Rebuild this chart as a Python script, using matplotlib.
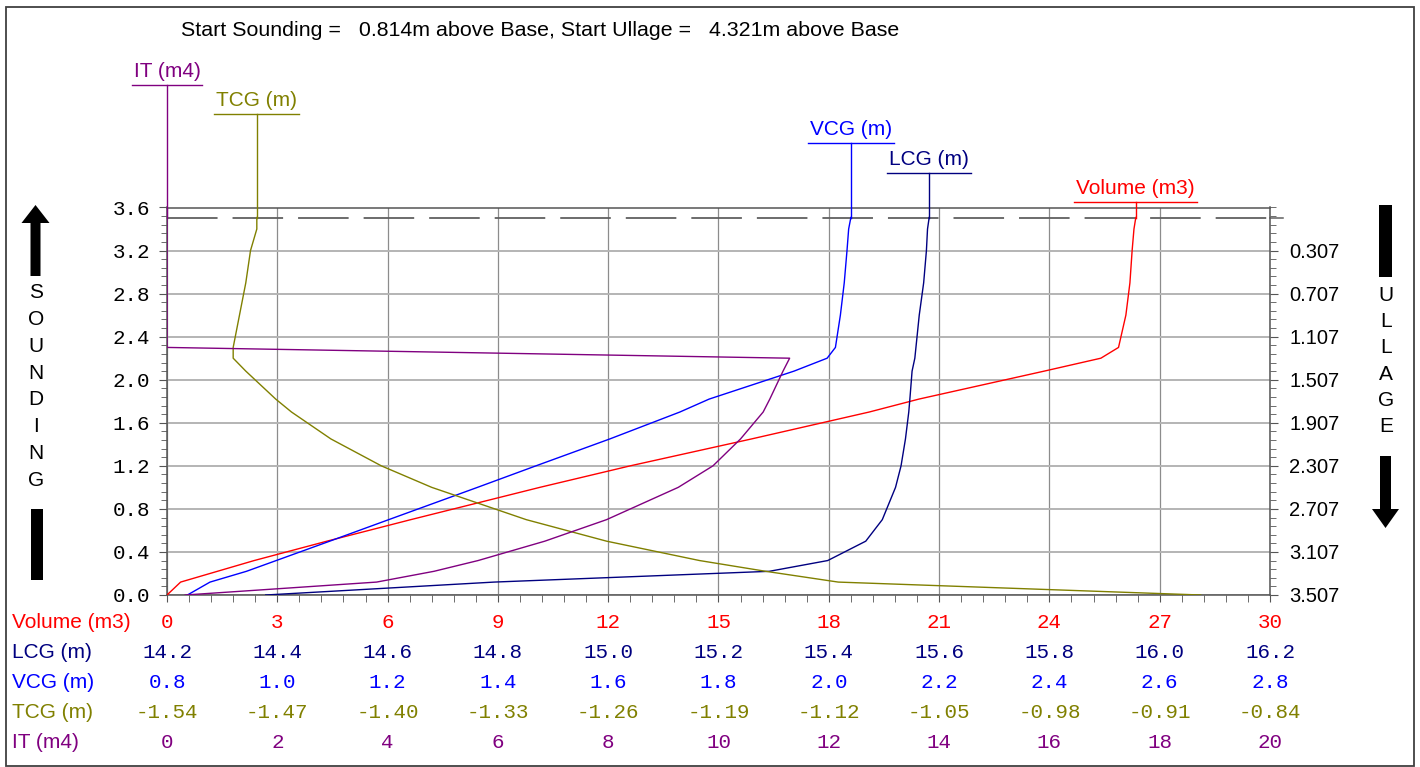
import numpy as np
import matplotlib.pyplot as plt
from matplotlib.patches import Rectangle, Polygon
from matplotlib.ticker import MultipleLocator, FixedLocator
from matplotlib.transforms import blended_transform_factory

plt.rcParams['font.family'] = 'Liberation Sans'
plt.rcParams['font.size'] = 15

# tank calibration table, sounding in m
sounding = [0.0, 0.12, 0.22, 0.32, 0.5, 0.7, 1.0, 1.2, 1.45, 1.7, 1.82, 2.08,
            2.2, 2.3, 2.6, 2.9, 3.2, 3.4, 3.507]
volume = [0.00, 0.37, 1.37, 2.37, 4.35, 6.63, 10.14, 12.60, 15.90, 19.10, 20.45,
          23.86, 25.40, 25.88, 26.08, 26.19, 26.25, 26.30, 26.35]
lcg = [14.379, 14.793, 15.292, 15.398, 15.467, 15.497, 15.521, 15.531, 15.539,
       15.545, 15.547, 15.551, 15.556, 15.558, 15.564, 15.572, 15.577, 15.579, 15.582]
vcg = [0.837, 0.878, 0.944, 0.998, 1.095, 1.202, 1.363, 1.469, 1.603, 1.730,
       1.783, 1.937, 1.997, 2.012, 2.021, 2.028, 2.033, 2.036, 2.040]
tcg = [-0.884, -1.114, -1.160, -1.202, -1.261, -1.312, -1.372, -1.404, -1.436,
       -1.461, -1.471, -1.490, -1.498, -1.498, -1.494, -1.490, -1.487, -1.483, -1.483]
it = [0.33, 3.80, 4.84, 5.64, 6.85, 7.97, 9.27, 9.90, 10.40, 10.81, 10.93,
      11.17, 11.29, 0.00, 0.00, 0.00, 0.00, 0.00, 0.00]

volume_ticks = [0, 3, 6, 9, 12, 15, 18, 21, 24, 27, 30]
lcg_ticks = [14.2, 14.4, 14.6, 14.8, 15.0, 15.2, 15.4, 15.6, 15.8, 16.0, 16.2]
vcg_ticks = [0.8, 1.0, 1.2, 1.4, 1.6, 1.8, 2.0, 2.2, 2.4, 2.6, 2.8]
tcg_ticks = [-1.54, -1.47, -1.40, -1.33, -1.26, -1.19, -1.12, -1.05, -0.98, -0.91, -0.84]
it_ticks = [0, 2, 4, 6, 8, 10, 12, 14, 16, 18, 20]

start_sounding = 0.814
start_ullage = 4.321
full_sounding = round(start_ullage - start_sounding, 3)

# name, values, scale ticks, colour, label format, callout height
series = [
    ("Volume (m3)", volume, volume_ticks, "#ff0000", "{:.0f}", 3.651),
    ("LCG (m)", lcg, lcg_ticks, "#000080", "{:.1f}", 3.921),
    ("VCG (m)", vcg, vcg_ticks, "#0000ff", "{:.1f}", 4.199),
    ("TCG (m)", tcg, tcg_ticks, "#808000", "{:.2f}", 4.469),
    ("IT (m4)", it, it_ticks, "#800080", "{:.0f}", 4.738),
]
row_y = [622, 652, 683, 713, 742]

W, H = 1420, 767
fig = plt.figure(figsize=(W / 100, H / 100), dpi=100)

# pixel-space overlay for frame, arrows and captions
bg = fig.add_axes([0, 0, 1, 1])
bg.set_xlim(0, W)
bg.set_ylim(H, 0)
bg.set_axis_off()

ax = fig.add_axes([167 / W, 1 - 595 / H, 1103 / W, 387.5 / H])
ax.set_xlim(volume_ticks[0], volume_ticks[-1])
ax.set_ylim(0, 3.6)
ax.xaxis.set_major_locator(FixedLocator(volume_ticks))
ax.xaxis.set_minor_locator(MultipleLocator(0.6))
ax.yaxis.set_major_locator(MultipleLocator(0.4))
ax.yaxis.set_minor_locator(MultipleLocator(0.08))
ax.xaxis.grid(True, color="#8c8c8c", lw=0.9)
ax.yaxis.grid(True, color="#b4b4b4", lw=1.4)
ax.set_axisbelow(True)
for sp in ax.spines.values():
    sp.set_color("#555555")
    sp.set_linewidth(1.1)
ax.tick_params(axis="x", which="both", direction="out", length=5, color="#555555",
               labelbottom=False)
ax.tick_params(axis="y", which="major", direction="out", length=6, color="#555555",
               pad=6, labelsize=15)
ax.tick_params(axis="y", which="minor", direction="out", length=4, color="#555555")
ax.yaxis.set_major_formatter(lambda v, p: f"{v:.1f}")
for lab in ax.get_yticklabels():
    lab.set_fontfamily("Liberation Mono")

# ullage scale on the right
axr = ax.twinx()
axr.set_ylim(0, 3.6)
ull_pos = [v for v in np.arange(0, 3.21, 0.4)]
axr.yaxis.set_major_locator(FixedLocator(ull_pos))
axr.yaxis.set_minor_locator(MultipleLocator(0.08))
axr.set_yticklabels([f"{full_sounding - v:.3f}" for v in ull_pos])
axr.tick_params(axis="y", which="major", direction="out", length=6, color="#555555",
                pad=8, labelsize=14.5)
axr.tick_params(axis="y", which="minor", direction="out", length=4, color="#555555")
for sp in axr.spines.values():
    sp.set_visible(False)

ax.axhline(full_sounding, color="#606060", lw=1.3, dashes=(28, 8.3))
ax.plot([1.0, 1.012], [full_sounding, full_sounding], color="#606060", lw=1.1,
        transform=blended_transform_factory(ax.transAxes, ax.transData), clip_on=False)

# one overlaid x scale per quantity
callouts = []
for row, (name, vals, ticks, color, fmt, level) in enumerate(series):
    sax = ax.twiny()
    sax.set_xlim(ticks[0], ticks[-1])
    sax.set_ylim(0, 3.6)
    sax.set_axis_off()
    sax.plot(vals, sounding, color=color, lw=1.0)
    top = vals[-1]
    sax.plot([top, top], [sounding[-1], level], color=color, lw=1.0, clip_on=False)
    txt = sax.annotate(name, (top, level), xytext=(0, 3), textcoords="offset points",
                       ha="center", va="bottom", color=color, fontsize=15,
                       annotation_clip=False)
    callouts.append((sax, txt, level, color))

    tr = blended_transform_factory(sax.transData, bg.transData)
    y = row_y[row]
    bg.text(12, y, name, color=color, fontsize=15, ha="left", va="center")
    for t in ticks:
        sax.text(t, y, fmt.format(t), transform=tr, color=color, ha="center",
                 va="center", fontsize=15, family="Liberation Mono", clip_on=False)

# underline each callout to the width of its label
fig.canvas.draw()
for sax, txt, level, color in callouts:
    bb = txt.get_window_extent()
    inv = sax.transData.inverted()
    x0 = inv.transform((bb.x0 - 2, 0))[0]
    x1 = inv.transform((bb.x1 + 2, 0))[0]
    sax.plot([x0, x1], [level, level], color=color, lw=1.0, clip_on=False)

bg.text(540, 31, f"Start Sounding = {start_sounding:7.3f}m above Base, "
                 f"Start Ullage = {start_ullage:7.3f}m above Base",
        ha="center", va="center", fontsize=15.4)

# outer frame
bg.add_patch(Rectangle((5.5, 6.5), 1408, 759, fill=False, ec="#404040", lw=1.3))

# sounding arrow and bar
bg.add_patch(Polygon([(35.5, 205), (49.5, 223), (40.5, 223), (40.5, 276), (30.5, 276),
                      (30.5, 223), (21.5, 223)], closed=True, fc="black", ec="none"))
bg.add_patch(Rectangle((31, 509), 12, 71, fc="black", ec="none"))
bg.text(36, 386.5, "\n".join("SOUNDING"), ha="center", va="center", fontsize=15,
        linespacing=1.53)

# ullage bar and arrow
bg.add_patch(Rectangle((1379, 205), 13, 72, fc="black", ec="none"))
bg.add_patch(Polygon([(1380, 456), (1391, 456), (1391, 509), (1399, 509), (1385.5, 528),
                      (1372, 509), (1380, 509)], closed=True, fc="black", ec="none"))
bg.text(1386, 361, "\n".join("ULLAGE"), ha="center", va="center", fontsize=15,
        linespacing=1.47)

fig.savefig("out.png", dpi=100)
